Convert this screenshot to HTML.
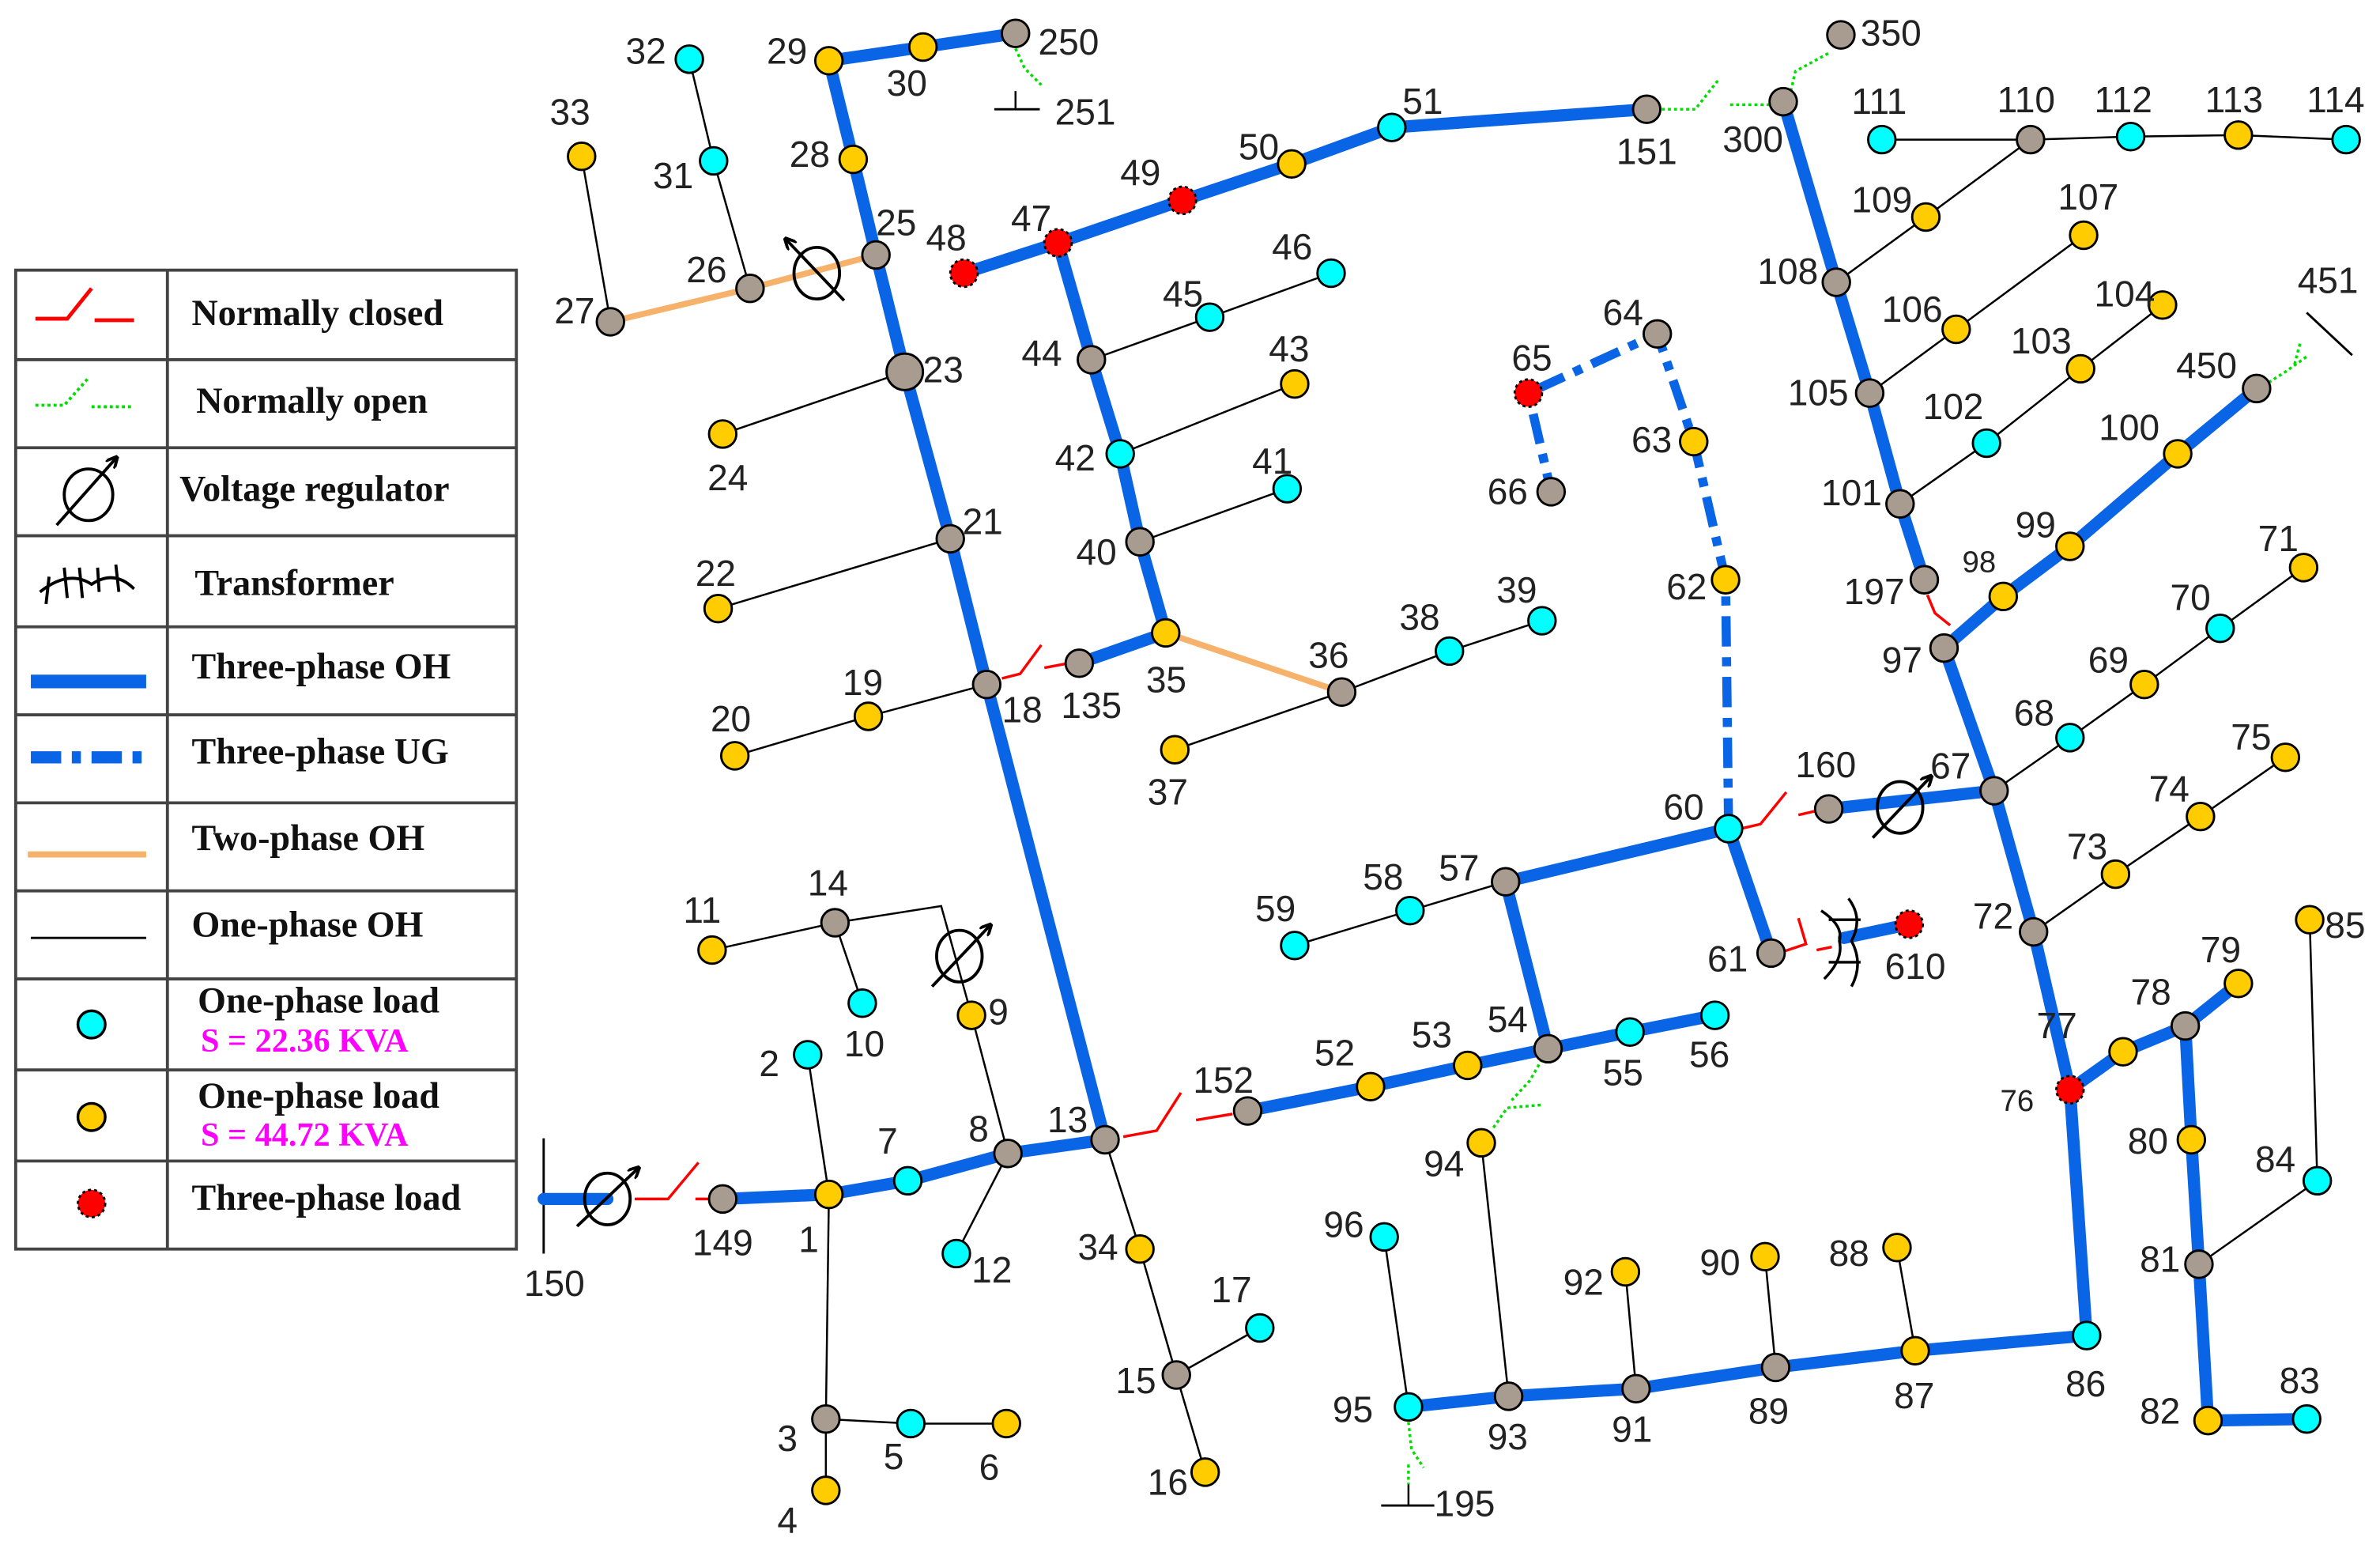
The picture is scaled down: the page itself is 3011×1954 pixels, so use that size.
<!DOCTYPE html>
<html><head><meta charset="utf-8"><style>html,body{margin:0;padding:0;background:#fff}svg{display:block}</style></head><body>
<svg width="3011" height="1954" viewBox="0 0 1568 1018" xmlns="http://www.w3.org/2000/svg">
<defs>
<marker id="ar" markerWidth="8" markerHeight="8" refX="6" refY="4" orient="auto" markerUnits="userSpaceOnUse"><path d="M0,0 L8,4 L0,8" fill="none" stroke="#000" stroke-width="2"/></marker>
</defs>
<rect width="1568" height="1018" fill="#fff"/>
<!-- Legend -->
<g stroke="#444" stroke-width="2" fill="none">
<rect x="10" y="178" width="330" height="645"/>
<line x1="110" y1="178" x2="110" y2="823"/>
<line x1="10" y1="237" x2="340" y2="237"/><line x1="10" y1="295" x2="340" y2="295"/><line x1="10" y1="353" x2="340" y2="353"/><line x1="10" y1="413" x2="340" y2="413"/><line x1="10" y1="471" x2="340" y2="471"/><line x1="10" y1="529" x2="340" y2="529"/><line x1="10" y1="587" x2="340" y2="587"/><line x1="10" y1="645" x2="340" y2="645"/><line x1="10" y1="705" x2="340" y2="705"/><line x1="10" y1="765" x2="340" y2="765"/>
</g>
<g font-family="Liberation Serif, serif" font-weight="bold" font-size="24" fill="#111">
<text x="126" y="214">Normally closed</text>
<text x="129" y="272">Normally open</text>
<text x="118" y="330">Voltage regulator</text>
<text x="128" y="392">Transformer</text>
<text x="126" y="447">Three-phase OH</text>
<text x="126" y="503">Three-phase UG</text>
<text x="126" y="560">Two-phase OH</text>
<text x="126" y="617">One-phase OH</text>
<text x="130" y="667">One-phase load</text>
<text x="132" y="693" fill="#f0f" font-size="22">S = 22.36 KVA</text>
<text x="130" y="730">One-phase load</text>
<text x="132" y="755" fill="#f0f" font-size="22">S = 44.72 KVA</text>
<text x="126" y="797">Three-phase load</text>
</g>
<polyline points="23,210 44,210 60,190" fill="none" stroke="red" stroke-width="2.5"/><line x1="62" y1="211" x2="88" y2="211" stroke="red" stroke-width="2.5"/>
<polyline points="23,267 42,267 58,249" fill="none" stroke="#0d0" stroke-width="2" stroke-dasharray="2,2"/><line x1="60" y1="268" x2="88" y2="268" stroke="#0d0" stroke-width="2" stroke-dasharray="2,2"/>
<ellipse cx="58" cy="326" rx="16" ry="17" fill="none" stroke="#000" stroke-width="2"/><line x1="37" y1="346" x2="76" y2="302" stroke="#000" stroke-width="2" marker-end="url(#ar)"/>
<path d="M26,390 Q45,375 60,385 Q75,375 88,388 M32,380 L30,398 M42,374 L44,394 M52,374 L54,394 M64,374 L65,390 M76,372 L78,390" fill="none" stroke="#000" stroke-width="2"/>
<line x1="20" y1="449" x2="96" y2="449" stroke="#0a64e6" stroke-width="9"/>
<line x1="20" y1="499" x2="96" y2="499" stroke="#0a64e6" stroke-width="8" stroke-dasharray="20,7,6,7"/>
<line x1="18" y1="563" x2="96" y2="563" stroke="#f6b26b" stroke-width="4"/>
<line x1="20" y1="618" x2="96" y2="618" stroke="#000" stroke-width="1.5"/>
<circle cx="60" cy="675" r="9" fill="#0ff" stroke="#000" stroke-width="1.8"/>
<circle cx="60" cy="736" r="9" fill="#fc0" stroke="#000" stroke-width="1.8"/>
<circle cx="60" cy="793" r="9" fill="red" stroke="#000" stroke-width="1.5" stroke-dasharray="2,2"/>

<!-- one-phase thin -->
<g stroke="#000" stroke-width="1.3" fill="none">
<polyline points="532,695 546,787 544,935 600,938 663,938"/><line x1="544" y1="935" x2="544" y2="982"/>
<line x1="664" y1="760" x2="630" y2="826"/><line x1="664" y1="760" x2="640" y2="669"/>
<polyline points="640,669 620,597 550,608 469,626"/><line x1="550" y1="608" x2="568" y2="661"/>
<polyline points="728,751 751,823 775,906 794,970"/><line x1="775" y1="906" x2="830" y2="875"/>
<polyline points="650,451 572,472 484,498"/><line x1="626" y1="355" x2="473" y2="401"/><line x1="596" y1="245" x2="476" y2="286"/>
<polyline points="494,190 470,106 454,39"/><line x1="402" y1="212" x2="383" y2="103"/>
<polyline points="719,237 797,209 877,180"/><line x1="738" y1="299" x2="853" y2="253"/><line x1="751" y1="357" x2="848" y2="322"/>
<polyline points="884,456 955,429 1016,409"/><line x1="884" y1="456" x2="774" y2="494"/>
<polyline points="992,581 929,600 853,623"/>
<line x1="976" y1="753" x2="994" y2="920"/><line x1="928" y1="927" x2="912" y2="815"/><line x1="1078" y1="915" x2="1071" y2="838"/><line x1="1170" y1="901" x2="1163" y2="828"/><line x1="1262" y1="890" x2="1250" y2="822"/>
<polyline points="1340,614 1394,576 1450,538 1506,499"/><polyline points="1314,521 1364,486 1413,451 1463,414 1518,374"/>
<polyline points="1252,332 1309,292 1371,243 1425,201"/><polyline points="1232,259 1289,217 1373,155"/><polyline points="1210,186 1269,143 1338,92"/>
<polyline points="1240,92 1338,92 1404,90 1475,89 1546,92"/>
<polyline points="1449,833 1527,778 1522,606"/>
<line x1="358" y1="750" x2="358" y2="826" stroke-width="1.5"/>
<line x1="655" y1="72" x2="685" y2="72" stroke-width="1.5"/><line x1="669" y1="60" x2="669" y2="72"/>
<line x1="910" y1="992" x2="945" y2="992" stroke-width="1.5"/><line x1="928" y1="978" x2="928" y2="992"/>
<line x1="1520" y1="206" x2="1550" y2="234" stroke-width="1.5"/>
</g>
<!-- two-phase -->
<g stroke="#f6b26b" stroke-width="4" fill="none"><polyline points="402,212 494,190 577,168"/><line x1="768" y1="417" x2="884" y2="456"/></g>
<!-- UG -->
<polyline points="1139,546 1137,382 1116,291 1092,220 1007,259 1022,324" fill="none" stroke="#0a64e6" stroke-width="6" stroke-dasharray="20,7,6,7"/>
<!-- three-phase OH -->
<g stroke="#0a64e6" stroke-width="8" fill="none" stroke-linecap="round">
<polyline points="358,790 400,790"/><polyline points="476,790 546,787 598,778 664,760 728,751 650,451 626,355 596,245 577,168 562,105 546,40 608,31 669,22"/>
<polyline points="822,732 903,716 967,702 1020,691 1074,680 1130,669"/>
<polyline points="1020,691 992,581 1139,546 1167,628"/>
<polyline points="1205,533 1314,521 1340,614 1364,718 1375,880 1262,890 1170,901 1078,915 994,920 928,927"/>
<polyline points="1364,718 1399,693 1440,676 1475,648"/><polyline points="1440,676 1444,751 1449,833 1455,936 1520,935"/>
<polyline points="1175,67 1210,186 1232,259 1252,332 1268,382"/>
<polyline points="1314,521 1281,427 1320,393 1364,360 1435,299 1487,256"/>
<polyline points="711,437 768,417 751,357 738,299 719,237 697,160 635,180"/>
<polyline points="697,160 779,132 851,108 917,84 1085,72"/>
<line x1="1215" y1="618" x2="1258" y2="609"/>
</g>
<!-- normally closed switches -->
<g stroke="red" stroke-width="1.8" fill="none">
<polyline points="418,790 440,790 460,766"/><line x1="458" y1="790" x2="470" y2="790"/>
<polyline points="660,447 672,444 686,425"/><line x1="688" y1="440" x2="704" y2="437"/>
<polyline points="740,749 762,745 778,720"/><line x1="788" y1="738" x2="812" y2="734"/>
<polyline points="1147,546 1160,543 1177,522"/><line x1="1185" y1="537" x2="1198" y2="534"/>
<polyline points="1270,392 1275,404 1285,412"/>
<polyline points="1175,627 1190,622 1185,605"/><line x1="1197" y1="626" x2="1207" y2="624"/>
</g>
<!-- normally open -->
<g stroke="#0d0" stroke-width="1.8" fill="none" stroke-dasharray="2,2">
<polyline points="1095,72 1117,72 1132,53"/><line x1="1140" y1="69" x2="1167" y2="69"/>
<polyline points="1180,60 1183,47 1205,35"/>
<polyline points="669,32 675,45 686,56"/>
<polyline points="1495,252 1506,245 1520,235"/><line x1="1512" y1="240" x2="1516" y2="225"/>
<polyline points="1020,691 1008,712 996,725"/><polyline points="984,743 993,730 1016,728"/>
<polyline points="928,937 930,955 938,967"/><line x1="928" y1="965" x2="928" y2="978"/>
</g>
<!-- regulators -->
<g stroke="#000" stroke-width="2" fill="none">
<ellipse cx="400" cy="790" rx="15" ry="17"/><line x1="380" y1="808" x2="420" y2="770" marker-end="url(#ar)"/>
<ellipse cx="632" cy="630" rx="15" ry="17"/><line x1="614" y1="650" x2="652" y2="610" marker-end="url(#ar)"/>
<ellipse cx="538" cy="180" rx="15" ry="17"/><line x1="556" y1="198" x2="518" y2="158" marker-end="url(#ar)"/>
<ellipse cx="1252" cy="532" rx="15" ry="17"/><line x1="1234" y1="552" x2="1272" y2="512" marker-end="url(#ar)"/>
<path d="M1200,600 Q1215,610 1212,620 Q1215,632 1202,645 M1218,592 Q1228,605 1220,620 Q1228,635 1220,650 M1205,606 L1226,606 M1205,634 L1226,634" stroke-width="1.8"/>
</g>
<!-- nodes -->
<g stroke="#000" stroke-width="1.5">
<g fill="#a89c90">
<circle cx="476" cy="790" r="9"/><circle cx="664" cy="760" r="9"/><circle cx="728" cy="751" r="9"/><circle cx="550" cy="608" r="9"/><circle cx="544" cy="935" r="9"/><circle cx="775" cy="906" r="9"/><circle cx="822" cy="732" r="9"/><circle cx="1020" cy="691" r="9"/><circle cx="992" cy="581" r="9"/><circle cx="1167" cy="628" r="9"/><circle cx="1205" cy="533" r="9"/><circle cx="1314" cy="521" r="9"/><circle cx="1092" cy="220" r="9"/><circle cx="1022" cy="324" r="9"/><circle cx="994" cy="920" r="9"/><circle cx="1078" cy="915" r="9"/><circle cx="1170" cy="901" r="9"/><circle cx="1340" cy="614" r="9"/><circle cx="1281" cy="427" r="9"/><circle cx="1268" cy="382" r="9"/><circle cx="1487" cy="256" r="9"/><circle cx="1252" cy="332" r="9"/><circle cx="1232" cy="259" r="9"/><circle cx="1210" cy="186" r="9"/><circle cx="1338" cy="92" r="9"/><circle cx="1175" cy="67" r="9"/><circle cx="1213" cy="23" r="9"/><circle cx="1085" cy="72" r="9"/><circle cx="719" cy="237" r="9"/><circle cx="751" cy="357" r="9"/><circle cx="711" cy="437" r="9"/><circle cx="884" cy="456" r="9"/><circle cx="650" cy="451" r="9"/><circle cx="626" cy="355" r="9"/><circle cx="596" cy="245" r="12"/><circle cx="577" cy="168" r="9"/><circle cx="494" cy="190" r="9"/><circle cx="402" cy="212" r="9"/><circle cx="669" cy="22" r="9"/><circle cx="1440" cy="676" r="9"/><circle cx="1449" cy="833" r="9"/>
</g>
<g fill="#fc0">
<circle cx="546" cy="787" r="9"/><circle cx="640" cy="669" r="9"/><circle cx="469" cy="626" r="9"/><circle cx="663" cy="938" r="9"/><circle cx="544" cy="982" r="9"/><circle cx="751" cy="823" r="9"/><circle cx="794" cy="970" r="9"/><circle cx="903" cy="716" r="9"/><circle cx="967" cy="702" r="9"/><circle cx="1137" cy="382" r="9"/><circle cx="1116" cy="291" r="9"/><circle cx="976" cy="753" r="9"/><circle cx="1071" cy="838" r="9"/><circle cx="1163" cy="828" r="9"/><circle cx="1262" cy="890" r="9"/><circle cx="1250" cy="822" r="9"/><circle cx="1394" cy="576" r="9"/><circle cx="1450" cy="538" r="9"/><circle cx="1506" cy="499" r="9"/><circle cx="1413" cy="451" r="9"/><circle cx="1518" cy="374" r="9"/><circle cx="1320" cy="393" r="9"/><circle cx="1364" cy="360" r="9"/><circle cx="1435" cy="299" r="9"/><circle cx="1371" cy="243" r="9"/><circle cx="1425" cy="201" r="9"/><circle cx="1289" cy="217" r="9"/><circle cx="1373" cy="155" r="9"/><circle cx="1269" cy="143" r="9"/><circle cx="1475" cy="89" r="9"/><circle cx="851" cy="108" r="9"/><circle cx="853" cy="253" r="9"/><circle cx="768" cy="417" r="9"/><circle cx="774" cy="494" r="9"/><circle cx="572" cy="472" r="9"/><circle cx="484" cy="498" r="9"/><circle cx="473" cy="401" r="9"/><circle cx="476" cy="286" r="9"/><circle cx="383" cy="103" r="9"/><circle cx="562" cy="105" r="9"/><circle cx="546" cy="40" r="9"/><circle cx="608" cy="31" r="9"/><circle cx="1399" cy="693" r="9"/><circle cx="1475" cy="648" r="9"/><circle cx="1444" cy="751" r="9"/><circle cx="1455" cy="936" r="9"/><circle cx="1522" cy="606" r="9"/>
</g>
<g fill="#0ff">
<circle cx="598" cy="778" r="9"/><circle cx="532" cy="695" r="9"/><circle cx="630" cy="826" r="9"/><circle cx="568" cy="661" r="9"/><circle cx="600" cy="938" r="9"/><circle cx="830" cy="875" r="9"/><circle cx="1074" cy="680" r="9"/><circle cx="1130" cy="669" r="9"/><circle cx="929" cy="600" r="9"/><circle cx="853" cy="623" r="9"/><circle cx="1139" cy="546" r="9"/><circle cx="928" cy="927" r="9"/><circle cx="912" cy="815" r="9"/><circle cx="1375" cy="880" r="9"/><circle cx="1364" cy="486" r="9"/><circle cx="1463" cy="414" r="9"/><circle cx="1309" cy="292" r="9"/><circle cx="1240" cy="92" r="9"/><circle cx="1404" cy="90" r="9"/><circle cx="1546" cy="92" r="9"/><circle cx="917" cy="84" r="9"/><circle cx="797" cy="209" r="9"/><circle cx="877" cy="180" r="9"/><circle cx="738" cy="299" r="9"/><circle cx="848" cy="322" r="9"/><circle cx="955" cy="429" r="9"/><circle cx="1016" cy="409" r="9"/><circle cx="470" cy="106" r="9"/><circle cx="454" cy="39" r="9"/><circle cx="1520" cy="935" r="9"/><circle cx="1527" cy="778" r="9"/>
</g>
<g fill="red" stroke-dasharray="2,2">
<circle cx="1258" cy="609" r="9"/><circle cx="1007" cy="259" r="9"/><circle cx="1364" cy="718" r="9"/><circle cx="779" cy="132" r="9"/><circle cx="697" cy="160" r="9"/><circle cx="635" cy="180" r="9"/>
</g>
</g>
<!-- labels -->
<g font-family="Liberation Sans, sans-serif" font-size="24" fill="#222">
<text x="345" y="854">150</text><text x="456" y="827">149</text><text x="526" y="825">1</text><text x="578" y="760">7</text><text x="638" y="752">8</text><text x="690" y="746">13</text>
<text x="500" y="709">2</text><text x="640" y="845">12</text><text x="651" y="675">9</text><text x="532" y="590">14</text><text x="450" y="608">11</text><text x="556" y="696">10</text>
<text x="512" y="956">3</text><text x="582" y="968">5</text><text x="645" y="975">6</text><text x="512" y="1010">4</text>
<text x="710" y="830">34</text><text x="735" y="918">15</text><text x="798" y="858">17</text><text x="756" y="985">16</text>
<text x="786" y="720">152</text><text x="866" y="702">52</text><text x="930" y="690">53</text><text x="980" y="680">54</text><text x="1056" y="715">55</text><text x="1113" y="703">56</text>
<text x="948" y="580">57</text><text x="898" y="586">58</text><text x="827" y="607">59</text><text x="1096" y="540">60</text><text x="1125" y="640">61</text><text x="1242" y="645">610</text><text x="1183" y="512">160</text><text x="1272" y="513">67</text>
<text x="1098" y="395">62</text><text x="1075" y="298">63</text><text x="1056" y="214">64</text><text x="996" y="244">65</text><text x="980" y="332">66</text>
<text x="938" y="775">94</text><text x="878" y="937">95</text><text x="872" y="815">96</text><text x="980" y="955">93</text><text x="1062" y="950">91</text><text x="1030" y="853">92</text><text x="1152" y="938">89</text><text x="1120" y="840">90</text><text x="1248" y="928">87</text><text x="1205" y="834">88</text><text x="1361" y="920">86</text>
<text x="1318" y="732" font-size="20">76</text><text x="1300" y="612">72</text><text x="1362" y="566">73</text><text x="1416" y="528">74</text><text x="1470" y="494">75</text><text x="1327" y="478">68</text><text x="1376" y="443">69</text><text x="1430" y="402">70</text><text x="1488" y="363">71</text>
<text x="1240" y="443">97</text><text x="1215" y="398">197</text><text x="1293" y="377" font-size="20">98</text><text x="1328" y="354">99</text><text x="1383" y="290">100</text><text x="1434" y="249">450</text><text x="1514" y="193">451</text>
<text x="1200" y="333">101</text><text x="1267" y="276">102</text><text x="1325" y="233">103</text><text x="1380" y="202">104</text><text x="1178" y="267">105</text><text x="1240" y="212">106</text><text x="1356" y="138">107</text><text x="1158" y="187">108</text><text x="1220" y="140">109</text>
<text x="1316" y="74">110</text><text x="1220" y="75">111</text><text x="1380" y="74">112</text><text x="1453" y="74">113</text><text x="1520" y="74">114</text>
<text x="1135" y="100">300</text><text x="1226" y="30">350</text><text x="1065" y="108">151</text><text x="924" y="75">51</text><text x="816" y="105">50</text><text x="738" y="122">49</text><text x="666" y="152">47</text><text x="610" y="165">48</text>
<text x="673" y="241">44</text><text x="766" y="202">45</text><text x="838" y="171">46</text><text x="695" y="310">42</text><text x="836" y="238">43</text><text x="709" y="372">40</text><text x="825" y="312">41</text>
<text x="755" y="456">35</text><text x="699" y="473">135</text><text x="862" y="440">36</text><text x="922" y="415">38</text><text x="986" y="397">39</text><text x="756" y="530">37</text>
<text x="660" y="476">18</text><text x="555" y="458">19</text><text x="468" y="482">20</text><text x="634" y="352">21</text><text x="458" y="386">22</text><text x="608" y="252">23</text><text x="466" y="323">24</text><text x="577" y="155">25</text><text x="452" y="186">26</text><text x="365" y="213">27</text>
<text x="430" y="124">31</text><text x="412" y="42">32</text><text x="362" y="82">33</text><text x="520" y="110">28</text><text x="505" y="42">29</text><text x="584" y="63">30</text><text x="684" y="36">250</text><text x="695" y="82">251</text><text x="945" y="999">195</text>
<text x="1342" y="684">77</text><text x="1404" y="662">78</text><text x="1450" y="634">79</text><text x="1402" y="760">80</text><text x="1410" y="838">81</text><text x="1410" y="938">82</text><text x="1502" y="918">83</text><text x="1486" y="772">84</text><text x="1532" y="618">85</text>
</g>
</svg>
</body></html>
